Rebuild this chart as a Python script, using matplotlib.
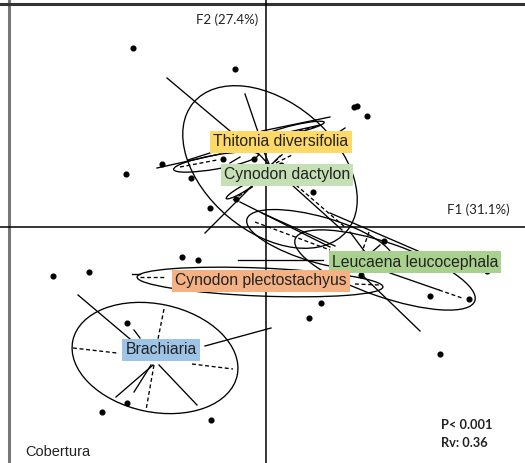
import matplotlib
matplotlib.use("Agg")
import matplotlib.pyplot as plt
from matplotlib.patches import Ellipse

# ---- data (factorial plane F1 x F2) ----
site_x = [-1.33, -0.31, -1.04, -1.40, -0.75, -0.43, -0.12, -0.30, -0.56, 0.88, 0.91, 1.01,
          0.47, 0.15, -2.13, -1.77, -0.84, -0.68, -1.39, -1.39, -1.64, -0.55, 1.18, 0.95,
          0.55, 0.43, 1.64, 2.03, 2.21, 1.74]
site_y = [1.79, 1.58, 0.63, 0.53, 0.49, 0.68, 0.68, 0.28, 0.19, 1.20, 1.21, 1.11,
          0.35, 0.62, -0.49, -0.45, -0.30, -0.33, -0.96, -1.76, -1.85, -1.93, -0.14, -0.48,
          -0.76, -0.91, -0.69, -0.72, -0.44, -1.27]

# ellipses: centre x, centre y, width, height, angle
ell_x = [0.04, -0.50, -0.25, 0.54, 1.19, -0.06, -1.11, 0.29]
ell_y = [0.60, 0.65, 0.37, -0.13, -0.43, -0.55, -1.31, 0.98]
ell_w = [2.00, 0.86, 0.34, 1.52, 1.90, 2.46, 1.68, 0.60]
ell_h = [1.30, 0.14, 0.06, 0.46, 0.54, 0.28, 1.08, 0.08]
ell_a = [-40, 10, 30, -16, -19, -2.3, -12, 13]

# star segments: x0, y0, x1, y1, dashed
seg_x0 = [-1.88, -1.32, -1.02, -1.93, -0.61, -0.74, -1.13, -1.15, -1.12, -1.07,
          -1.34, -1.26, 0.89, -0.28,
          -0.99, -0.21, -1.09, -0.78, -0.86, -0.36, -0.04, 0.23, 0.33, 0.73,
          0.04, 0.04, 0.04, 0.04, 0.04,
          -0.61, -0.33, 0.26, 0.30,
          -0.26, -0.04, -0.11, 0.64, 0.84, 1.03, 1.06, 1.24, 1.73, 0.96]
seg_y0 = [-0.68, -1.03, -0.82, -1.21, -1.19, -1.37, -1.38, -1.38, -1.38, -1.38,
          -0.47, -0.50, -0.57, -0.33,
          1.49, 1.33, 0.59, 0.67, 0.60, 0.64, 0.96, 0.95, 0.96, 0.95,
          0.61, 0.61, 0.61, 0.61, 0.61,
          -0.06, 0.27, 0.42, 0.42,
          0.25, 0.14, 0.05, 0.14, -0.05, -0.05, -0.25, -0.46, -0.63, -0.48]
seg_x1 = [-1.36, -1.26, -1.08, -1.49, 0.05, -0.33, -1.50, -1.32, -1.20, -0.69,
          -1.26, -1.01, 1.14, 0.57,
          -0.36, -0.08, -0.46, -0.53, -0.49, -0.26, 0.64, 0.54, 0.52, 0.79,
          -0.08, -0.02, 0.14, 0.26, 0.19,
          -0.13, -0.11, 0.76, 0.80,
          0.64, 0.69, 0.64, 1.52, 0.99, 0.96, 1.14, 1.73, 1.96, 1.54]
seg_y1 = [-1.12, -1.11, -1.12, -1.26, -1.01, -1.42, -1.70, -1.65, -1.83, -1.78,
          -0.47, -0.50, -0.58, -0.33,
          0.96, 0.95, 0.73, 0.75, 0.67, 0.70, 1.10, 1.02, 1.01, 0.99,
          0.74, 0.75, 0.71, 0.72, 0.75,
          0.42, 0.42, -0.03, -0.01,
          -0.20, -0.19, -0.23, -0.24, -0.25, -0.25, -0.18, -0.63, -0.71, -1.04]
seg_dash = [0, 0, 1, 1, 0, 1, 0, 0, 1, 0,
            0, 1, 1, 0,
            0, 0, 0, 0, 1, 0, 0, 0, 1, 0,
            0, 0, 0, 1, 1,
            0, 1, 0, 1,
            0, 0, 1, 0, 0, 1, 0, 0, 1, 0]

# group labels
groups = ["Thitonia diversifolia", "Cynodon dactylon", "Leucaena leucocephala",
          "Cynodon plectostachyus", "Brachiaria"]
group_x = [0.15, 0.21, 1.49, -0.05, -1.05]
group_y = [0.85, 0.52, -0.35, -0.54, -1.23]
group_col = ["#FFD966", "#C5E0B4", "#A9D18E", "#F4B183", "#9DC3E6"]

f1_label = "F1 (31.1%)"
f2_label = "F2 (27.4%)"
title = "Cobertura"
stats = ["P< 0.001", "Rv: 0.36"]

# ---- figure ----
fig = plt.figure(figsize=(5.25, 4.63), dpi=100)
ax = fig.add_axes([0, 0, 1, 1])
ax.set_xlim(-2.66, 2.59)
ax.set_ylim(-2.36, 2.27)
ax.axis("off")

# frame (left and top edges) and the two factor axes
ax.axvline(-2.575, color="#777777", lw=2.2, zorder=1)
ax.axhline(2.235, color="#333333", lw=2.2, zorder=1)
ax.axvline(0, color="black", lw=1.1, zorder=1)
ax.axhline(0, color="black", lw=1.1, zorder=1)

for x0, y0, x1, y1, d in zip(seg_x0, seg_y0, seg_x1, seg_y1, seg_dash):
    ax.plot([x0, x1], [y0, y1], color="black", lw=0.95,
            ls=(0, (3, 2)) if d else "-", zorder=2)

for cx, cy, w, h, a in zip(ell_x, ell_y, ell_w, ell_h, ell_a):
    ax.add_patch(Ellipse((cx, cy), w, h, angle=a, fill=False,
                         edgecolor="black", lw=0.95, zorder=2))

ax.plot(site_x, site_y, "o", color="black", ms=3.4, zorder=3)

for name, gx, gy, c in zip(groups, group_x, group_y, group_col):
    ax.text(gx, gy, name, ha="center", va="center", fontsize=11.3,
            family="Liberation Sans", color="#222222", zorder=4,
            bbox=dict(boxstyle="square,pad=0.2", facecolor=c, edgecolor="none"))

ax.text(-0.08, 2.07, f2_label, ha="right", va="center", fontsize=9.5,
        family="Lato", color="#222222")
ax.text(2.44, 0.17, f1_label, ha="right", va="center", fontsize=9.5,
        family="Lato", color="#222222")
ax.text(-2.41, -2.25, title, ha="left", va="center", fontsize=10.5,
        family="Liberation Sans", color="#222222")
ax.text(1.75, -1.98, stats[0], ha="left", va="center", fontsize=9.2,
        family="Lato", weight="bold", color="#222222")
ax.text(1.75, -2.16, stats[1], ha="left", va="center", fontsize=9.2,
        family="Lato", weight="bold", color="#222222")

fig.savefig("out.png", dpi=100)
